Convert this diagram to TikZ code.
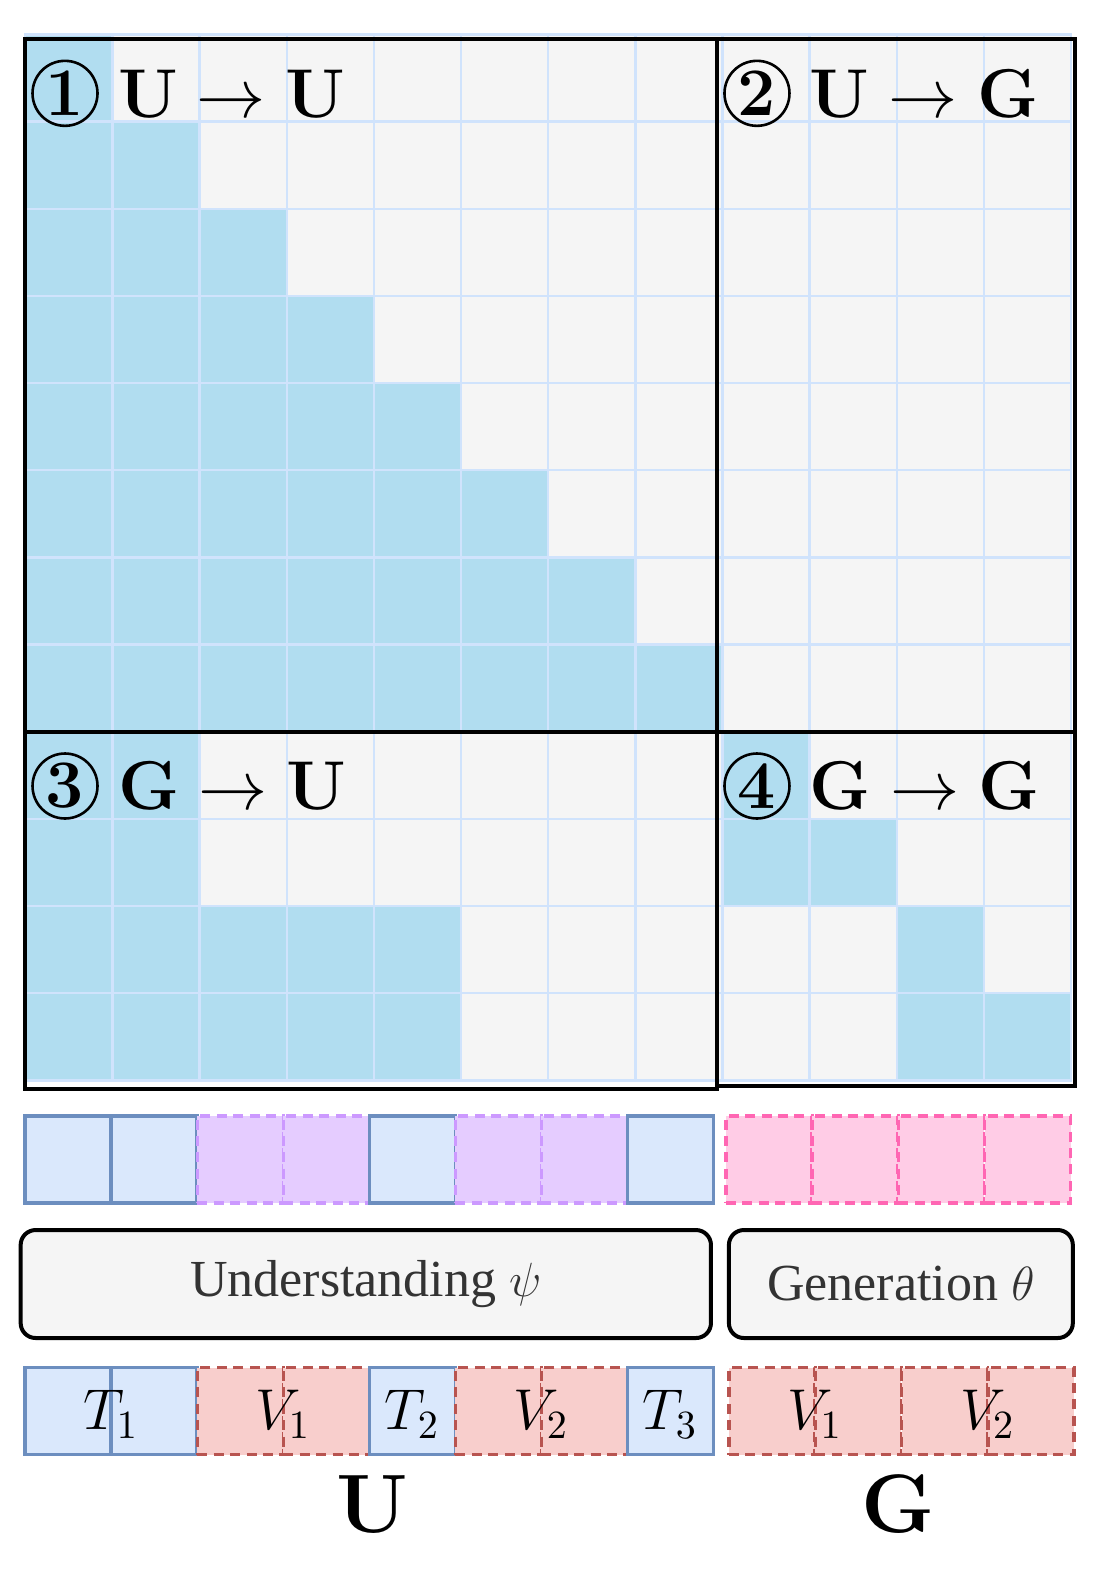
\documentclass[tikz,border=0pt]{standalone}
\usepackage[no-math]{fontspec}
\usepackage{amsmath}
\usepackage{amssymb}
\usetikzlibrary{positioning}
\newfontfamily\serifmod{Liberation Serif}
\definecolor{maskon}{HTML}{B1DDF0}
\definecolor{maskoff}{HTML}{F5F5F5}
\definecolor{maskline}{HTML}{D0E3FC}
\definecolor{txtfill}{HTML}{DAE8FC}
\definecolor{txtline}{HTML}{6C8EBF}
\definecolor{undfill}{HTML}{E5CCFF}
\definecolor{undline}{HTML}{CC99FF}
\definecolor{genfill}{HTML}{FFCCE6}
\definecolor{genline}{HTML}{FF66B3}
\definecolor{visfill}{HTML}{F8CECC}
\definecolor{visline}{HTML}{B85450}
\definecolor{modtext}{HTML}{333333}

\begin{document}
\begin{tikzpicture}[
    x=21.79pt, y=-21.79pt,
    celloff/.style={fill=maskoff, draw=maskline, line width=0.6pt},
    cellon/.style={fill=maskon, draw=maskline, line width=0.6pt},
    quad/.style={draw=black, line width=1pt},
    numcircle/.style={circle, draw, line width=0.65pt, minimum size=16.25pt, inner sep=0pt,
        font=\fontsize{17}{20}\selectfont\bfseries},
    quadlabel/.style={inner sep=0pt, font=\fontsize{17}{20}\selectfont},
    tok/.style={minimum width=21.5pt, minimum height=21.75pt, inner sep=0pt, outer sep=0pt, line width=0.9pt},
    ttxt/.style={tok, fill=txtfill, draw=txtline},
    tund/.style={tok, fill=undfill, draw=undline, dash pattern=on 2.5pt off 1.6pt},
    tgen/.style={tok, fill=genfill, draw=genline, dash pattern=on 2.5pt off 1.6pt},
    tvis/.style={tok, fill=visfill, draw=visline, dash pattern=on 2.5pt off 1.6pt},
    toklabel/.style={inner sep=0pt, yshift=-0.75pt, font=\fontsize{14}{16}\selectfont},
    module/.style={draw, fill=maskoff, rounded corners=3.75pt, line width=1pt, text=modtext,
        font=\serifmod\fontsize{13}{16}\selectfont},
    grouplabel/.style={inner sep=0pt, font=\fontsize{20.74}{24}\selectfont}
]
    \useasboundingbox (-0.29,-0.396) rectangle (12.423,17.642);
    % attention mask
    \foreach \r in {0,...,11}
        \foreach \c in {0,...,11}
            \draw[celloff] (\c,\r) rectangle ++(1,1);
    \foreach \r in {0,...,7}
        \foreach \c in {0,...,\r}
            \draw[cellon] (\c,\r) rectangle ++(1,1);
    \foreach \r/\n in {8/1,9/1,10/4,11/4}
        \foreach \c in {0,...,\n}
            \draw[cellon] (\c,\r) rectangle ++(1,1);
    \foreach \r/\c in {8/8,9/8,9/9,10/10,11/10,11/11}
        \draw[cellon] (\c,\r) rectangle ++(1,1);
    \draw[quad] (0,0.057) rectangle (7.94,8);
    \draw[quad] (7.94,0.057) rectangle (12.04,8);
    \draw[quad] (0,8) rectangle (7.94,12.1);
    \draw[quad] (7.94,8) rectangle (12.04,12.07);
    \node[numcircle] (n1) at (0.456,0.675) {1};
    \node[quadlabel, right=4.6pt of n1] (l1) {$\mathbf{U}\rightarrow\mathbf{U}$};
    \node[numcircle] (n2) at (8.396,0.675) {2};
    \node[quadlabel, right=4.6pt of n2] (l2) {$\mathbf{U}\rightarrow\mathbf{G}$};
    \node[numcircle] (n3) at (0.456,8.623) {3};
    \node[quadlabel, right=4.6pt of n3] (l3) {$\mathbf{G}\rightarrow\mathbf{U}$};
    \node[numcircle] (n4) at (8.396,8.623) {4};
    \node[quadlabel, right=4.6pt of n4] (l4) {$\mathbf{G}\rightarrow\mathbf{G}$};
    % token rows
    \foreach \t [count=\i] in {ttxt,ttxt,tund,tund,ttxt,tund,tund,ttxt}
        \node[\t] (a\i) at ({0.987*\i-0.4935},12.91) {};
    \foreach \i in {1,...,4}
        \node[tgen] (g\i) at ({8.037+0.99*\i-0.495},12.91) {};
    \node[module, minimum width=172.6pt, minimum height=27pt] (und) at (3.9075,14.3375) {Understanding $\psi$};
    \node[module, minimum width=86pt, minimum height=27pt] (gen) at (10.047,14.3375) {Generation $\theta$};
    \foreach \t [count=\i] in {ttxt,ttxt,tvis,tvis,ttxt,tvis,tvis,ttxt}
        \node[\t] (b\i) at ({0.987*\i-0.4935},15.795) {};
    \foreach \i in {1,...,4}
        \node[tvis] (v\i) at ({8.074+0.99*\i-0.495},15.795) {};
    \node[toklabel] at (b1.east) {$T_1$};
    \node[toklabel] at (b3.east) {$V_1$};
    \node[toklabel] at (b5) {$T_2$};
    \node[toklabel] at (b6.east) {$V_2$};
    \node[toklabel] at (b8) {$T_3$};
    \node[toklabel] at (v1.east) {$V_1$};
    \node[toklabel] at (v3.east) {$V_2$};
    \node[grouplabel, anchor=base] (lu) at (3.978,17.19) {$\mathbf{U}$};
    \node[grouplabel, anchor=base] (lg) at (10.014,17.19) {$\mathbf{G}$};
\end{tikzpicture}
\end{document}
